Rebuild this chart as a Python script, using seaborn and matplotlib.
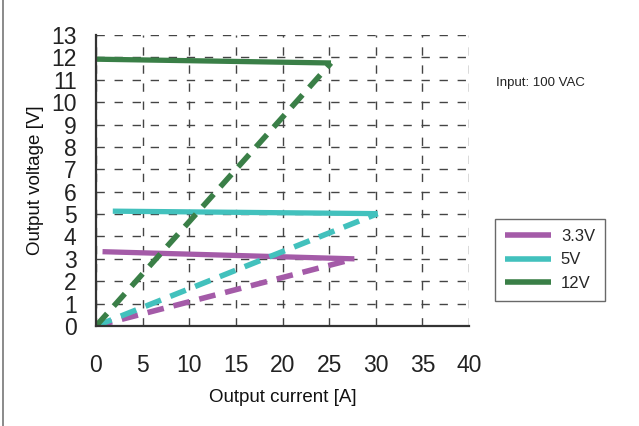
import matplotlib
matplotlib.use("Agg")
import matplotlib.pyplot as plt
import seaborn as sns
import pandas as pd

sns.set_theme(style="white")
plt.rcParams['font.family'] = ['Liberation Sans', 'DejaVu Sans']

# series: regulation curve (solid) and overload foldback (dashed)
series = ["3.3V", "5V", "12V"]
colors = ["#A45BA8", "#42C1BD", "#3A7F47"]
solid_x = [[0.7, 27.7], [1.8, 30.2], [0.0, 25.2]]
solid_y = [[3.32, 3.0], [5.13, 5.02], [11.92, 11.75]]
dash_x = [[0.0, 27.7], [0.0, 30.2], [0.0, 25.2]]
dash_y = [[0.0, 3.0], [0.0, 5.02], [0.0, 11.75]]

x_ticks = [0, 5, 10, 15, 20, 25, 30, 35, 40]
y_ticks = list(range(0, 14))

rows = []
for name, sx, sy, dx, dy in zip(series, solid_x, solid_y, dash_x, dash_y):
    for x, y in zip(sx, sy):
        rows.append({"I": x, "V": y, "out": name, "kind": "solid"})
    for x, y in zip(dx, dy):
        rows.append({"I": x, "V": y, "out": name, "kind": "dash"})
df = pd.DataFrame(rows)

fig = plt.figure(figsize=(6.39, 4.26), dpi=100)
ax = fig.add_axes([96 / 639, 1 - 326 / 426, 373 / 639, 291 / 426])

pal = dict(zip(series, colors))
sns.lineplot(data=df[df.kind == "solid"], x="I", y="V", hue="out", palette=pal,
             units="out", estimator=None, lw=3.8, ax=ax, legend=False, sort=False)
sns.lineplot(data=df[df.kind == "dash"], x="I", y="V", hue="out", palette=pal,
             units="out", estimator=None, lw=4.0, ax=ax, legend=False, sort=False,
             dashes=False)
for line in ax.lines[3:]:
    line.set_dashes((3.0, 1.8))
for line in ax.lines:
    line.set_solid_capstyle("butt")
    line.set_dash_capstyle("butt")

ax.set_xlim(0, 40)
ax.set_ylim(0, 13)
ax.set_xticks(x_ticks)
ax.set_yticks(y_ticks)
ax.tick_params(axis="both", length=0, labelsize=16.5, colors="#222222")
ax.tick_params(axis="x", pad=20)
ax.tick_params(axis="y", pad=14)
ax.grid(True, color="#444444", ls=(0, (6, 7)), lw=1.0)
ax.set_axisbelow(True)
for s in ["top", "right"]:
    ax.spines[s].set_visible(False)
for s in ["left", "bottom"]:
    ax.spines[s].set_color("#333333")
    ax.spines[s].set_linewidth(1.6)

ax.set_xlabel("Output current [A]", fontsize=13.5, color="#111111", labelpad=9)
ax.set_ylabel("Output voltage [V]", fontsize=13.5, color="#111111", labelpad=5)

fig.text(496 / 639, 1 - 83 / 426, "Input: 100 VAC", fontsize=9.5, va="center", color="#222222")

handles = [plt.Line2D([], [], color=c, lw=4, solid_capstyle="butt") for c in colors]
leg = fig.legend(handles, series, loc="upper left", bbox_to_anchor=(495 / 639, 1 - 219 / 426),
                 borderaxespad=0, fontsize=12, frameon=True, fancybox=False, handlelength=2.75,
                 borderpad=0.6, labelspacing=0.5, handletextpad=0.6)
leg.get_frame().set_edgecolor("#444444")
leg.get_frame().set_linewidth(1.0)

fig.add_artist(plt.Line2D([3 / 639, 3 / 639], [0, 1], color="#777777", lw=1.2,
                          transform=fig.transFigure))

fig.savefig("out.png", dpi=100)
